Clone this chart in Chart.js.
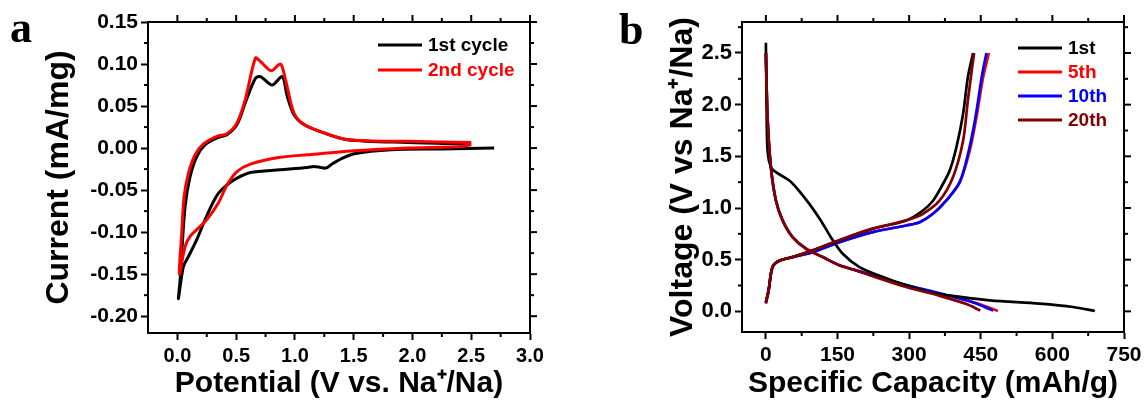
<!DOCTYPE html>
<html lang="en">
<head>
  <meta charset="UTF-8" />
  <title>CV and charge-discharge curves</title>
  <script src="https://cdn.jsdelivr.net/npm/chart.js"></script>
  <style>
    body {
      margin: 0;
      background: #fff;
      width: 1148px;
      height: 402px;
      position: relative;
      overflow: hidden;
      font-family: 'Liberation Sans', Arial, sans-serif;
    }
    .panel {
      position: absolute;
      top: 0;
      width: 574px;
      height: 402px;
    }
    .letter {
      position: absolute;
      font-family: 'Liberation Serif', 'Times New Roman', serif;
      font-weight: bold;
      font-size: 44px;
      line-height: 1;
    }
  </style>
</head>
<body>
  <div class="panel" style="left:0"><canvas id="cvChart" width="574" height="402"></canvas></div>
  <div class="panel" style="left:574px"><canvas id="gcdChart" width="574" height="402"></canvas></div>
  <div class="letter" style="left:10px;top:6px">a</div>
  <div class="letter" style="left:619px;top:8px">b</div>

  <script>
    // ---- panel a: cyclic voltammetry ----
    const cvTicksX = [0, 0.5, 1.0, 1.5, 2.0, 2.5, 3.0];
    const cvTicksY = [-0.20, -0.15, -0.10, -0.05, 0.00, 0.05, 0.10, 0.15];

    // 1st cycle: from OCV down to 0.01 V, then back up to 2.5 V
    const cycle1V = [2.695, 2.245, 1.818, 1.504, 1.39, 1.319, 1.262, 1.219, 1.162, 1.105, 0.877, 0.621, 0.507, 0.422, 0.35, 0.293, 0.236, 0.165, 0.094, 0.051, 0.009,
                     0.023, 0.037, 0.066, 0.108, 0.165, 0.236, 0.336, 0.422, 0.507, 0.578, 0.664, 0.707, 0.806, 0.892, 0.934, 0.991, 1.077, 1.248, 1.447, 1.96, 2.5];
    const cycle1I = [0, -0.001, -0.002, -0.0067, -0.013, -0.0187, -0.0238, -0.023, -0.0218, -0.023, -0.0258, -0.029, -0.0357, -0.0437, -0.0536, -0.0675, -0.085, -0.109, -0.129, -0.141, -0.179,
                     -0.157, -0.125, -0.069, -0.034, -0.010, 0.004, 0.012, 0.016, 0.028, 0.054, 0.083, 0.085, 0.075, 0.085, 0.062, 0.040, 0.028, 0.018, 0.010, 0.0067, 0.005];

    // 2nd cycle
    const cycle2V = [2.5, 2.416, 1.96, 1.533, 1.105, 0.877, 0.621, 0.507, 0.422, 0.35, 0.251, 0.165, 0.108, 0.066, 0.017,
                     0.037, 0.057, 0.094, 0.151, 0.222, 0.336, 0.422, 0.507, 0.578, 0.664, 0.707, 0.798, 0.877, 0.92, 0.991, 1.077, 1.248, 1.447, 1.96, 2.5];
    const cycle2I = [0.004, 0.002, 0, -0.003, -0.008, -0.011, -0.019, -0.028, -0.044, -0.065, -0.085, -0.097, -0.105, -0.117, -0.150,
                     -0.101, -0.058, -0.030, -0.008, 0.005, 0.014, 0.017, 0.030, 0.058, 0.107, 0.103, 0.092, 0.100, 0.081, 0.042, 0.028, 0.018, 0.010, 0.008, 0.0067];

    // ---- panel b: galvanostatic discharge / charge ----
    const gcdTicksX = [0, 150, 300, 450, 600, 750];
    const gcdTicksY = [0.0, 0.5, 1.0, 1.5, 2.0, 2.5];

    const c1DisCap = [0, 1.4, 3.5, 10.5, 21, 49, 66, 91, 115, 136, 161, 196, 245, 294, 350, 399, 469, 573, 643, 689];
    const c1DisV   = [2.60, 2.04, 1.556, 1.395, 1.347, 1.266, 1.186, 1.04, 0.88, 0.718, 0.557, 0.428, 0.332, 0.251, 0.177, 0.145, 0.106, 0.074, 0.042, 0.003];
    const c1ChgCap = [0, 5.6, 14, 28, 56, 98, 154, 224, 294, 329, 350, 367, 385, 399, 413, 423, 434];
    const c1ChgV   = [0.09, 0.2, 0.43, 0.49, 0.525, 0.59, 0.686, 0.80, 0.88, 0.976, 1.07, 1.20, 1.363, 1.588, 1.91, 2.265, 2.5];

    const c5DisCap = [0, 3.5, 10.5, 21, 35, 56, 84, 119, 154, 189, 224, 294, 364, 434, 486];
    const c5DisV   = [2.5, 1.878, 1.395, 1.073, 0.88, 0.718, 0.606, 0.525, 0.445, 0.396, 0.348, 0.251, 0.171, 0.09, 0.003];
    const c5ChgCap = [0, 5.6, 14, 28, 56, 98, 154, 224, 294, 322, 350, 378, 406, 427, 441, 455, 467];
    const c5ChgV   = [0.074, 0.2, 0.43, 0.49, 0.525, 0.573, 0.67, 0.767, 0.831, 0.863, 0.944, 1.073, 1.25, 1.556, 1.878, 2.265, 2.5];

    const c10DisCap = [0, 3.5, 10.5, 21, 35, 56, 84, 119, 154, 189, 224, 294, 364, 434, 476];
    const c10DisV   = [2.5, 1.878, 1.395, 1.073, 0.88, 0.718, 0.606, 0.525, 0.445, 0.396, 0.348, 0.255, 0.175, 0.085, 0.008];
    const c10ChgCap = [0, 5.6, 14, 28, 56, 98, 154, 224, 294, 322, 350, 378, 406, 425, 439, 452, 462];
    const c10ChgV   = [0.08, 0.2, 0.43, 0.49, 0.525, 0.573, 0.67, 0.767, 0.831, 0.863, 0.944, 1.073, 1.25, 1.556, 1.878, 2.265, 2.5];

    const c20DisCap = [0, 3.5, 10.5, 21, 35, 56, 84, 119, 154, 189, 224, 294, 364, 420, 449];
    const c20DisV   = [2.5, 1.878, 1.395, 1.073, 0.88, 0.718, 0.606, 0.525, 0.445, 0.396, 0.340, 0.235, 0.150, 0.070, 0.008];
    const c20ChgCap = [0, 5.6, 14, 28, 56, 98, 154, 224, 294, 329, 364, 392, 413, 423, 436];
    const c20ChgV   = [0.09, 0.2, 0.43, 0.49, 0.525, 0.59, 0.69, 0.80, 0.88, 0.944, 1.073, 1.30, 1.65, 2.04, 2.5];

    const toXY = (xs, ys) => xs.map((x, i) => ({ x, y: ys[i] }));

    // frame on all four sides, mirrored major ticks, minor ticks, inside legend
    const framePlugin = {
      id: 'frame',
      afterDraw(chart, args, opts) {
        const { ctx, chartArea: a, scales: { x, y } } = chart;
        const seg = (x1, y1, x2, y2) => { ctx.beginPath(); ctx.moveTo(x1, y1); ctx.lineTo(x2, y2); ctx.stroke(); };
        ctx.save();
        ctx.strokeStyle = '#000';
        ctx.lineWidth = 2;
        ctx.strokeRect(a.left, a.top, a.right - a.left, a.bottom - a.top);
        const major = 7, minor = 4;
        x.ticks.forEach(t => {
          const px = x.getPixelForValue(t.value);
          seg(px, a.top, px, a.top - major);
        });
        y.ticks.forEach(t => {
          const py = y.getPixelForValue(t.value);
          seg(a.right, py, a.right + major, py);
        });
        const mids = ticks => ticks.slice(1).map((v, i) => (v + ticks[i]) / 2)
          .concat([ticks[0] - (ticks[1] - ticks[0]) / 2, ticks[ticks.length - 1] + (ticks[1] - ticks[0]) / 2]);
        mids(opts.ticksX).filter(v => v > x.min && v < x.max).forEach(v => {
          const px = x.getPixelForValue(v);
          seg(px, a.bottom, px, a.bottom + minor);
          seg(px, a.top, px, a.top - minor);
        });
        mids(opts.ticksY).filter(v => v > y.min && v < y.max).forEach(v => {
          const py = y.getPixelForValue(v);
          seg(a.left, py, a.left - minor, py);
          seg(a.right, py, a.right + minor, py);
        });

        // legend
        ctx.font = 'bold ' + opts.legendFont + 'px "Liberation Sans", Arial, sans-serif';
        ctx.textBaseline = 'middle';
        chart.data.datasets.forEach((ds, i) => {
          if (ds.hideInLegend) return;
          const ly = opts.legendY + i * opts.legendGap;
          ctx.strokeStyle = ds.borderColor;
          ctx.lineWidth = 3;
          seg(opts.legendX, ly, opts.legendX + 44, ly);
          ctx.fillStyle = ds.borderColor;
          ctx.fillText(ds.label, opts.legendX + 50, ly + 1);
        });
        ctx.restore();
      }
    };

    function axis(cfg) {
      return {
        type: 'linear',
        position: cfg.position,
        min: cfg.min,
        max: cfg.max,
        afterBuildTicks: s => { s.ticks = cfg.ticks.map(v => ({ value: v })); },
        afterFit: s => { if (cfg.position === 'left') s.width = cfg.size; else s.height = cfg.size; },
        border: { display: true, color: '#000', width: 2 },
        grid: { drawOnChartArea: false, drawTicks: true, tickLength: 7, tickWidth: 2, tickColor: '#000' },
        ticks: {
          color: '#000',
          padding: cfg.pad,
          maxRotation: 0,
          autoSkip: false,
          font: { family: '"Liberation Sans", Arial, sans-serif', weight: 'bold', size: cfg.tickSize },
          callback: v => v.toFixed(cfg.digits)
        },
        title: {
          display: true,
          text: cfg.title,
          color: '#000',
          padding: { top: cfg.titlePad, bottom: 0 },
          font: { family: '"Liberation Sans", Arial, sans-serif', weight: 'bold', size: cfg.titleSize, lineHeight: 1.2 }
        }
      };
    }

    const lineStyle = { borderWidth: 3, pointRadius: 0, tension: 0.3, fill: false };

    new Chart(document.getElementById('cvChart'), {
      type: 'line',
      data: {
        datasets: [
          { label: '1st cycle', data: toXY(cycle1V, cycle1I), borderColor: '#000000', order: 1, ...lineStyle },
          { label: '2nd cycle', data: toXY(cycle2V, cycle2I), borderColor: '#ff0000', order: 0, ...lineStyle }
        ]
      },
      options: {
        responsive: false,
        devicePixelRatio: 1,
        animation: false,
        layout: { padding: { top: 22, right: 44, left: 0, bottom: 0 } },
        plugins: {
          legend: { display: false },
          tooltip: { enabled: false },
          frame: { ticksX: cvTicksX, ticksY: cvTicksY, legendX: 378, legendY: 45, legendGap: 25, legendFont: 19 }
        },
        scales: {
          x: axis({ position: 'bottom', min: -0.25, max: 3.0, ticks: cvTicksX, digits: 1, size: 69, pad: 4,
                    tickSize: 20, title: 'Potential (V vs. Na\u207A/Na)', titleSize: 30, titlePad: 0 }),
          y: axis({ position: 'left', min: -0.22, max: 0.15, ticks: cvTicksY, digits: 2, size: 148, pad: 3,
                    tickSize: 21, title: 'Current (mA/mg)', titleSize: 32, titlePad: 40 })
        }
      },
      plugins: [framePlugin]
    });

    const gcdStyle = { borderWidth: 2.7, pointRadius: 0, tension: 0.3, fill: false };

    new Chart(document.getElementById('gcdChart'), {
      type: 'line',
      data: {
        datasets: [
          { label: '1st', data: toXY(c1DisCap, c1DisV), borderColor: '#000000', order: 1, ...gcdStyle },
          { label: '5th', data: toXY(c5DisCap, c5DisV), borderColor: '#ff0000', order: 3, ...gcdStyle },
          { label: '10th', data: toXY(c10DisCap, c10DisV), borderColor: '#0000ff', order: 2, ...gcdStyle },
          { label: '20th', data: toXY(c20DisCap, c20DisV), borderColor: '#800000', order: 0, ...gcdStyle },
          { label: '1st charge', data: toXY(c1ChgCap, c1ChgV), borderColor: '#000000', order: 1, hideInLegend: true, ...gcdStyle },
          { label: '5th charge', data: toXY(c5ChgCap, c5ChgV), borderColor: '#ff0000', order: 3, hideInLegend: true, ...gcdStyle },
          { label: '10th charge', data: toXY(c10ChgCap, c10ChgV), borderColor: '#0000ff', order: 2, hideInLegend: true, ...gcdStyle },
          { label: '20th charge', data: toXY(c20ChgCap, c20ChgV), borderColor: '#800000', order: 0, hideInLegend: true, ...gcdStyle }
        ]
      },
      options: {
        responsive: false,
        devicePixelRatio: 1,
        animation: false,
        layout: { padding: { top: 22, right: 24, left: 0, bottom: 0 } },
        plugins: {
          legend: { display: false },
          tooltip: { enabled: false },
          frame: { ticksX: gcdTicksX, ticksY: gcdTicksY, legendX: 444, legendY: 48, legendGap: 24, legendFont: 19 }
        },
        scales: {
          x: axis({ position: 'bottom', min: -50, max: 750, ticks: gcdTicksX, digits: 0, size: 70, pad: 4,
                    tickSize: 21, title: 'Specific Capacity (mAh/g)', titleSize: 30, titlePad: 0 }),
          y: axis({ position: 'left', min: -0.2, max: 2.8, ticks: gcdTicksY, digits: 1, size: 168, pad: 3,
                    tickSize: 22, title: 'Voltage (V vs Na\u207A/Na)', titleSize: 32, titlePad: 90 })
        }
      },
      plugins: [framePlugin]
    });
  </script>
</body>
</html>
